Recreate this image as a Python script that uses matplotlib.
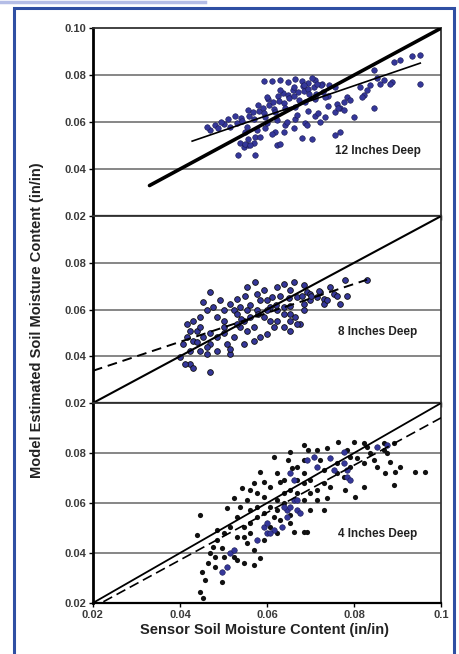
import matplotlib
matplotlib.use("Agg")
import matplotlib.pyplot as plt
from matplotlib.patches import Rectangle
from matplotlib.lines import Line2D

plt.rcParams['font.family'] = ['Liberation Sans', 'DejaVu Sans']

# --- data ---
x_ticks = [0.02, 0.04, 0.06, 0.08, 0.10]
x_ticklabels = ["0.02", "0.04", "0.06", "0.08", "0.1"]

# 12 inches deep (all blue)
x12 = [0.0952, 0.0933, 0.0952, 0.0887, 0.0891, 0.0906, 0.0845, 0.0845, 0.0822, 0.0818,
       0.0799, 0.0776, 0.0768, 0.0757, 0.0768, 0.0703, 0.0680, 0.0623, 0.0630, 0.0573,
       0.0534, 0.0546, 0.0557, 0.0569, 0.0538, 0.0550, 0.0561, 0.0853, 0.0860, 0.0868,
       0.0883, 0.0814, 0.0830, 0.0837, 0.0784, 0.0791, 0.0776, 0.0761, 0.0592, 0.0611,
       0.0630, 0.0649, 0.0665, 0.0680, 0.0695, 0.0711, 0.0726, 0.0742, 0.0757, 0.0703,
       0.0502, 0.0511, 0.0514, 0.0526, 0.0531, 0.0541, 0.0543, 0.0556, 0.0559, 0.0568,
       0.0571, 0.0579, 0.0582, 0.0591, 0.0594, 0.0603, 0.0605, 0.0614, 0.0617, 0.0626,
       0.0628, 0.0637, 0.0640, 0.0649, 0.0651, 0.0660, 0.0663, 0.0672, 0.0674, 0.0683,
       0.0686, 0.0695, 0.0697, 0.0709, 0.0713, 0.0725, 0.0728, 0.0740, 0.0549, 0.0555,
       0.0572, 0.0578, 0.0595, 0.0601, 0.0618, 0.0624, 0.0641, 0.0647, 0.0664, 0.0670,
       0.0687, 0.0693, 0.0710, 0.0716, 0.0733, 0.0739, 0.0756, 0.0762, 0.0557, 0.0584,
       0.0611, 0.0638, 0.0661, 0.0692, 0.0722, 0.0480, 0.0488, 0.0495, 0.0470, 0.0462,
       0.0596, 0.0619, 0.0642, 0.0665, 0.0688, 0.0711, 0.0734, 0.0600, 0.0630, 0.0661,
       0.0684, 0.0715]
y12 = [0.0885, 0.0881, 0.0764, 0.0771, 0.0856, 0.0863, 0.0821, 0.0658, 0.0714, 0.0707,
       0.0622, 0.0686, 0.0662, 0.0544, 0.0558, 0.0526, 0.0534, 0.0501, 0.0506, 0.0459,
       0.0459, 0.0494, 0.0501, 0.0511, 0.0509, 0.0505, 0.0502, 0.0786, 0.0764, 0.0778,
       0.0764, 0.0750, 0.0736, 0.0757, 0.0707, 0.0693, 0.0651, 0.0679, 0.0773, 0.0776,
       0.0779, 0.0770, 0.0783, 0.0776, 0.0767, 0.0779, 0.0764, 0.0757, 0.0750, 0.0788,
       0.0592, 0.0612, 0.0579, 0.0628, 0.0598, 0.0619, 0.0603, 0.0652, 0.0627, 0.0641,
       0.0615, 0.0671, 0.0649, 0.0662, 0.0640, 0.0697, 0.0671, 0.0684, 0.0655, 0.0711,
       0.0690, 0.0722, 0.0681, 0.0716, 0.0703, 0.0738, 0.0709, 0.0727, 0.0696, 0.0752,
       0.0733, 0.0741, 0.0718, 0.0749, 0.0720, 0.0756, 0.0729, 0.0713, 0.0558, 0.0581,
       0.0537, 0.0566, 0.0575, 0.0596, 0.0559, 0.0610, 0.0588, 0.0601, 0.0612, 0.0631,
       0.0597, 0.0648, 0.0626, 0.0640, 0.0622, 0.0669, 0.0644, 0.0661, 0.0530, 0.0537,
       0.0551, 0.0558, 0.0573, 0.0587, 0.0601, 0.0587, 0.0573, 0.0601, 0.0566, 0.0580,
       0.0622, 0.0644, 0.0658, 0.0665, 0.0686, 0.0700, 0.0707, 0.0707, 0.0736, 0.0750,
       0.0757, 0.0764]

# 8 inches deep (all blue)
x8 = [0.0830, 0.0784, 0.0753, 0.0730, 0.0722, 0.0745, 0.0676, 0.0665, 0.0684, 0.0653,
      0.0638, 0.0669, 0.0653, 0.0638, 0.0661, 0.0684, 0.0692, 0.0699, 0.0623, 0.0611,
      0.0592, 0.0584, 0.0577, 0.0573, 0.0553, 0.0550, 0.0530, 0.0538, 0.0523, 0.0515,
      0.0500, 0.0484, 0.0469, 0.0454, 0.0461, 0.0446, 0.0431, 0.0423, 0.0415, 0.0408,
      0.0415, 0.0431, 0.0446, 0.0461, 0.0469, 0.0423, 0.0412, 0.0431, 0.0515, 0.0507,
      0.0523, 0.0538, 0.0553, 0.0569, 0.0584, 0.0600, 0.0615, 0.0623, 0.0638, 0.0653,
      0.0592, 0.0561, 0.0546, 0.0530, 0.0500, 0.0484, 0.0469, 0.0454, 0.0438, 0.0484,
      0.0515, 0.0553, 0.0577, 0.0607, 0.0623, 0.0653, 0.0684, 0.0699, 0.0715, 0.0730,
      0.0761, 0.0768, 0.0738, 0.0653, 0.0669, 0.0607, 0.0569, 0.0530, 0.0492, 0.0477,
      0.0500, 0.0446, 0.0423, 0.0400, 0.0461, 0.0546, 0.0560, 0.0600, 0.0630, 0.0650,
      0.0620, 0.0580, 0.0540, 0.0500, 0.0470, 0.0440, 0.0600, 0.0640, 0.0700, 0.0680,
      0.0720, 0.0780]
y8 = [0.0728, 0.0660, 0.0667, 0.0646, 0.0675, 0.0696, 0.0538, 0.0567, 0.0596, 0.0581,
      0.0610, 0.0653, 0.0682, 0.0711, 0.0718, 0.0703, 0.0675, 0.0639, 0.0696, 0.0653,
      0.0682, 0.0639, 0.0667, 0.0718, 0.0696, 0.0660, 0.0646, 0.0610, 0.0596, 0.0624,
      0.0596, 0.0567, 0.0675, 0.0632, 0.0596, 0.0567, 0.0553, 0.0510, 0.0538, 0.0452,
      0.0481, 0.0467, 0.0424, 0.0409, 0.0331, 0.0366, 0.0366, 0.0352, 0.0409, 0.0452,
      0.0481, 0.0524, 0.0510, 0.0467, 0.0481, 0.0495, 0.0524, 0.0553, 0.0524, 0.0553,
      0.0567, 0.0567, 0.0553, 0.0538, 0.0524, 0.0481, 0.0452, 0.0481, 0.0510, 0.0424,
      0.0431, 0.0596, 0.0596, 0.0610, 0.0596, 0.0617, 0.0624, 0.0667, 0.0653, 0.0624,
      0.0660, 0.0624, 0.0639, 0.0510, 0.0538, 0.0553, 0.0524, 0.0581, 0.0639, 0.0610,
      0.0553, 0.0524, 0.0424, 0.0395, 0.0438, 0.0452, 0.0620, 0.0640, 0.0660, 0.0650,
      0.0620, 0.0580, 0.0560, 0.0500, 0.0500, 0.0460, 0.0600, 0.0580, 0.0660, 0.0660,
      0.0680, 0.0725]

# 4 inches deep (black and blue)
x4_black = [0.0446, 0.0438, 0.0450, 0.0458, 0.0446, 0.0454, 0.0496, 0.0465, 0.0481, 0.0496,
            0.0507, 0.0523, 0.0542, 0.0561, 0.0584, 0.0615, 0.0649, 0.0653, 0.0684, 0.0657,
            0.0630, 0.0684, 0.0661, 0.0692, 0.0730, 0.0699, 0.0738, 0.0764, 0.0799, 0.0822,
            0.0830, 0.0868, 0.0891, 0.0883, 0.0895, 0.0906, 0.0941, 0.0964, 0.0891, 0.0872,
            0.0845, 0.0822, 0.0803, 0.0780, 0.0776, 0.0738, 0.0715, 0.0695, 0.0623, 0.0592,
            0.0569, 0.0577, 0.0553, 0.0538, 0.0530, 0.0515, 0.0500, 0.0484, 0.0477, 0.0469,
            0.0500, 0.0530, 0.0546, 0.0569, 0.0584, 0.0569, 0.0553, 0.0546, 0.0561, 0.0592,
            0.0607, 0.0623, 0.0653, 0.0630, 0.0615, 0.0592, 0.0577, 0.0561, 0.0607, 0.0623,
            0.0638, 0.0684, 0.0669, 0.0653, 0.0638, 0.0669, 0.0684, 0.0699, 0.0730, 0.0761,
            0.0791, 0.0807, 0.0791, 0.0761, 0.0730, 0.0715, 0.0684, 0.0669, 0.0722, 0.0837,
            0.0853, 0.0822, 0.0623, 0.0607, 0.0592, 0.0577, 0.0561, 0.0546, 0.0530, 0.0523,
            0.0481, 0.0484, 0.0684, 0.0715, 0.0745, 0.0699, 0.0653, 0.0638, 0.0784, 0.0868,
            0.0876]
y4_black = [0.0552, 0.0472, 0.0325, 0.0292, 0.0245, 0.0219, 0.0285, 0.0359, 0.0385, 0.0419,
            0.0579, 0.0619, 0.0659, 0.0652, 0.0725, 0.0785, 0.0772, 0.0805, 0.0832, 0.0739,
            0.0685, 0.0485, 0.0485, 0.0485, 0.0572, 0.0639, 0.0619, 0.0845, 0.0845, 0.0839,
            0.0825, 0.0839, 0.0839, 0.0765, 0.0725, 0.0745, 0.0725, 0.0725, 0.0672, 0.0719,
            0.0772, 0.0665, 0.0625, 0.0652, 0.0705, 0.0819, 0.0812, 0.0812, 0.0719, 0.0685,
            0.0679, 0.0639, 0.0612, 0.0585, 0.0545, 0.0505, 0.0479, 0.0452, 0.0425, 0.0399,
            0.0385, 0.0372, 0.0359, 0.0352, 0.0379, 0.0412, 0.0439, 0.0465, 0.0479, 0.0452,
            0.0505, 0.0479, 0.0519, 0.0532, 0.0545, 0.0559, 0.0585, 0.0572, 0.0585, 0.0612,
            0.0599, 0.0612, 0.0639, 0.0652, 0.0692, 0.0692, 0.0719, 0.0692, 0.0732, 0.0759,
            0.0785, 0.0779, 0.0745, 0.0719, 0.0679, 0.0652, 0.0772, 0.0745, 0.0772, 0.0799,
            0.0745, 0.0759, 0.0572, 0.0665, 0.0625, 0.0545, 0.0519, 0.0505, 0.0465, 0.0385,
            0.0345, 0.0492, 0.0679, 0.0612, 0.0665, 0.0572, 0.0552, 0.0639, 0.0812, 0.0812,
            0.0799]
x4_blue = [0.0592, 0.0600, 0.0634, 0.0646, 0.0653, 0.0661, 0.0669, 0.0676, 0.0661, 0.0653,
           0.0692, 0.0715, 0.0707, 0.0745, 0.0776, 0.0784, 0.0753, 0.0515, 0.0523, 0.0507,
           0.0496, 0.0638, 0.0577, 0.0600, 0.0853, 0.0876, 0.0776, 0.0784, 0.0669, 0.0615,
           0.0607, 0.0646, 0.0791]
y4_blue = [0.0505, 0.0479, 0.0505, 0.0572, 0.0585, 0.0612, 0.0572, 0.0559, 0.0692, 0.0719,
           0.0772, 0.0745, 0.0785, 0.0779, 0.0759, 0.0732, 0.0732, 0.0399, 0.0412, 0.0345,
           0.0325, 0.0585, 0.0452, 0.0519, 0.0825, 0.0832, 0.0805, 0.0705, 0.0612, 0.0492,
           0.0479, 0.0545, 0.0692]

# fitted lines (endpoints)
fit12_x = [0.0428, 0.0952]
fit12_y = [0.0519, 0.0851]
one12_x = [0.033, 0.10]
fit8_x = [0.02, 0.0830]
fit8_y = [0.0338, 0.0728]
fit4_x = [0.0224, 0.10]
fit4_y = [0.0205, 0.0941]
one_x = [0.02, 0.10]

labels = ["12 Inches Deep", "8 Inches Deep", "4 Inches Deep"]

blue = '#35379a'

fig, axes = plt.subplots(3, 1, figsize=(4.6, 6.54), dpi=100, sharex=True,
                         gridspec_kw={'height_ratios': [188, 187, 200], 'hspace': 0})
fig.subplots_adjust(left=0.202, right=0.959, top=0.957, bottom=0.078)

tick_font = dict(fontsize=8, color='#3a3a3a', fontweight='bold')

for i, ax in enumerate(axes):
    ax.set_xlim(0.02, 0.10)
    ax.set_ylim(0.02, 0.10)
    ax.set_xticks(x_ticks)
    if i == 0:
        ax.set_yticks([0.02, 0.04, 0.06, 0.08, 0.10])
        ax.set_yticklabels(["0.02", "0.04", "0.06", "0.08", "0.10"], **tick_font)
    else:
        ax.set_yticks([0.02, 0.04, 0.06, 0.08])
        ax.set_yticklabels(["0.02", "0.04", "0.06", "0.08"], **tick_font)
    for yv in [0.04, 0.06, 0.08]:
        ax.axhline(yv, color='#666666', lw=1.1, zorder=1)
    ax.tick_params(axis='both', direction='out', length=3, width=1, pad=2)
    ax.spines['left'].set_linewidth(2.0)
    ax.spines['bottom'].set_linewidth(1.6)
    ax.spines['top'].set_linewidth(1.3)
    ax.spines['right'].set_linewidth(1.3)
    ax.spines['top'].set_color('#333333')
    ax.spines['right'].set_color('#333333')
    ax.text(0.0855, 0.0478 if i != 1 else 0.0505, labels[i], ha='center', va='center',
            fontsize=8.5, fontweight='bold', color='#222222')

# top panel
ax = axes[0]
ax.scatter(x12, y12, s=16, marker='o', color=blue, edgecolors='#1a1a50', linewidths=0.4, zorder=3)
ax.plot(one12_x, one12_x, color='black', lw=2.6, zorder=4, solid_capstyle='round')
ax.plot(fit12_x, fit12_y, color='black', lw=1.2, zorder=4)

# middle panel
ax = axes[1]
ax.scatter(x8, y8, s=17, marker='o', color=blue, edgecolors='#111111', linewidths=0.6, zorder=3)
ax.plot(one_x, one_x, color='black', lw=1.5, zorder=4)
ax.plot(fit8_x, fit8_y, color='black', lw=1.4, ls=(0, (5, 3)), zorder=4)

# bottom panel
ax = axes[2]
ax.scatter(x4_black, y4_black, s=14, marker='o', color='#111111', linewidths=0, zorder=3)
ax.scatter(x4_blue, y4_blue, s=16, marker='o', color=blue, edgecolors='#1a1a50', linewidths=0.4, zorder=3)
ax.plot(one_x, one_x, color='black', lw=1.3, zorder=4)
ax.plot(fit4_x, fit4_y, color='black', lw=1.2, ls=(0, (6, 3)), zorder=4)
ax.set_xticklabels(x_ticklabels, **tick_font)

fig.text(0.576, 0.036, "Sensor Soil Moisture Content (in/in)", ha='center', va='center',
         fontsize=10.5, fontweight='bold', color='#222222')
fig.text(0.080, 0.51, "Model Estimated Soil Moisture Content (in/in)", ha='center', va='center',
         rotation=90, fontsize=10.5, fontweight='bold', color='#222222')

# blue frame around the figure
fig.add_artist(Rectangle((14 / 460, -0.02), 440 / 460, 1 - 8 / 654 + 0.02, transform=fig.transFigure,
                         fill=False, edgecolor='#2f4fa3', lw=2.2))
fig.add_artist(Line2D([0, 205 / 460], [1 - 1.5 / 654, 1 - 1.5 / 654], transform=fig.transFigure,
                      color='#b4bde6', lw=2.5))

fig.savefig("out.png", dpi=100)
